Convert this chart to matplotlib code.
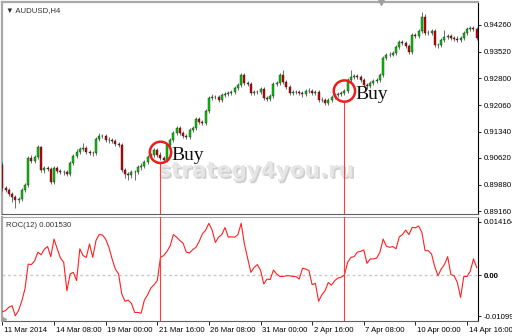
import matplotlib
matplotlib.use("Agg")
import matplotlib.pyplot as plt
import matplotlib.patheffects as pe
import matplotlib.transforms as mtrans
import numpy as np

# ---------------- data (AUDUSD H4) ----------------
opens = [0.9042, 0.8979, 0.8974, 0.8963, 0.8955, 0.8947, 0.8948, 0.8974, 0.8988, 0.9062,
         0.9053, 0.9064, 0.9092, 0.9029, 0.9034, 0.9031, 0.8996, 0.9034, 0.9026, 0.9023,
         0.9024, 0.9018, 0.9048, 0.9067, 0.9078, 0.9086, 0.9089, 0.9078, 0.9075, 0.9076,
         0.9114, 0.9122, 0.9121, 0.9111, 0.9112, 0.9108, 0.9100, 0.9097, 0.9029, 0.9018,
         0.9015, 0.9023, 0.9022, 0.9037, 0.9040, 0.9051, 0.9064, 0.9070, 0.9084, 0.9070,
         0.9062, 0.9056, 0.9097, 0.9111, 0.9130, 0.9144, 0.9130, 0.9122, 0.9119, 0.9138,
         0.9144, 0.9168, 0.9160, 0.9158, 0.9190, 0.9226, 0.9229, 0.9228, 0.9221, 0.9234,
         0.9237, 0.9240, 0.9242, 0.9253, 0.9262, 0.9289, 0.9267, 0.9264, 0.9240, 0.9242,
         0.9243, 0.9251, 0.9226, 0.9223, 0.9232, 0.9264, 0.9267, 0.9289, 0.9270, 0.9256,
         0.9240, 0.9242, 0.9243, 0.9240, 0.9237, 0.9245, 0.9246, 0.9240, 0.9242, 0.9221,
         0.9221, 0.9212, 0.9221, 0.9229, 0.9234, 0.9237, 0.9240, 0.9245, 0.9275, 0.9284,
         0.9286, 0.9284, 0.9275, 0.9262, 0.9259, 0.9267, 0.9273, 0.9275, 0.9289, 0.9336,
         0.9344, 0.9345, 0.9349, 0.9366, 0.9379, 0.9377, 0.9369, 0.9352, 0.9399, 0.9396,
         0.9410, 0.9448, 0.9404, 0.9404, 0.9410, 0.9371, 0.9371, 0.9385, 0.9393, 0.9396,
         0.9390, 0.9388, 0.9385, 0.9390, 0.9404, 0.9415, 0.9418, 0.9415]
closes = [0.8979, 0.8974, 0.8963, 0.8955, 0.8947, 0.8948, 0.8974, 0.8988, 0.9062, 0.9053,
          0.9064, 0.9092, 0.9029, 0.9034, 0.9031, 0.8996, 0.9034, 0.9026, 0.9023, 0.9024,
          0.9018, 0.9048, 0.9067, 0.9078, 0.9086, 0.9089, 0.9078, 0.9075, 0.9076, 0.9114,
          0.9122, 0.9121, 0.9111, 0.9112, 0.9108, 0.9100, 0.9097, 0.9029, 0.9018, 0.9015,
          0.9023, 0.9022, 0.9037, 0.9040, 0.9051, 0.9064, 0.9070, 0.9084, 0.9070, 0.9062,
          0.9056, 0.9097, 0.9111, 0.9130, 0.9144, 0.9130, 0.9122, 0.9119, 0.9138, 0.9144,
          0.9168, 0.9160, 0.9158, 0.9190, 0.9226, 0.9229, 0.9228, 0.9221, 0.9234, 0.9237,
          0.9240, 0.9242, 0.9253, 0.9262, 0.9289, 0.9267, 0.9264, 0.9240, 0.9242, 0.9243,
          0.9251, 0.9226, 0.9223, 0.9232, 0.9264, 0.9267, 0.9289, 0.9270, 0.9256, 0.9240,
          0.9242, 0.9243, 0.9240, 0.9237, 0.9245, 0.9246, 0.9240, 0.9242, 0.9221, 0.9221,
          0.9212, 0.9221, 0.9229, 0.9234, 0.9237, 0.9240, 0.9245, 0.9275, 0.9284, 0.9286,
          0.9284, 0.9275, 0.9262, 0.9259, 0.9267, 0.9273, 0.9275, 0.9289, 0.9336, 0.9344,
          0.9345, 0.9349, 0.9366, 0.9379, 0.9377, 0.9369, 0.9352, 0.9399, 0.9396, 0.9410,
          0.9448, 0.9404, 0.9404, 0.9410, 0.9371, 0.9371, 0.9385, 0.9393, 0.9396, 0.9390,
          0.9388, 0.9385, 0.9390, 0.9404, 0.9415, 0.9418, 0.9415, 0.9390]
highs = [0.9050, 0.8984, 0.8979, 0.8968, 0.8960, 0.8955, 0.8978, 0.8993, 0.9067, 0.9070,
         0.9069, 0.9097, 0.9095, 0.9039, 0.9040, 0.9036, 0.9039, 0.9039, 0.9031, 0.9030,
         0.9029, 0.9053, 0.9072, 0.9085, 0.9091, 0.9102, 0.9094, 0.9083, 0.9082, 0.9119,
         0.9130, 0.9127, 0.9126, 0.9118, 0.9117, 0.9113, 0.9106, 0.9102, 0.9034, 0.9023,
         0.9028, 0.9030, 0.9042, 0.9047, 0.9056, 0.9069, 0.9075, 0.9089, 0.9089, 0.9077,
         0.9067, 0.9102, 0.9116, 0.9135, 0.9149, 0.9149, 0.9135, 0.9128, 0.9143, 0.9149,
         0.9173, 0.9175, 0.9165, 0.9195, 0.9231, 0.9236, 0.9234, 0.9233, 0.9239, 0.9242,
         0.9245, 0.9247, 0.9258, 0.9267, 0.9295, 0.9294, 0.9272, 0.9269, 0.9248, 0.9249,
         0.9256, 0.9256, 0.9231, 0.9237, 0.9269, 0.9273, 0.9294, 0.9302, 0.9275, 0.9261,
         0.9248, 0.9249, 0.9248, 0.9245, 0.9250, 0.9252, 0.9251, 0.9248, 0.9247, 0.9228,
         0.9226, 0.9226, 0.9234, 0.9239, 0.9242, 0.9245, 0.9250, 0.9280, 0.9302, 0.9292,
         0.9292, 0.9289, 0.9280, 0.9266, 0.9272, 0.9278, 0.9281, 0.9294, 0.9341, 0.9350,
         0.9351, 0.9355, 0.9371, 0.9385, 0.9384, 0.9382, 0.9374, 0.9404, 0.9405, 0.9416,
         0.9462, 0.9455, 0.9412, 0.9415, 0.9415, 0.9378, 0.9390, 0.9412, 0.9402, 0.9401,
         0.9395, 0.9397, 0.9395, 0.9409, 0.9420, 0.9424, 0.9423, 0.9420]
lows = [0.8972, 0.8968, 0.8957, 0.8942, 0.8925, 0.8938, 0.8943, 0.8969, 0.8983, 0.9048,
        0.9048, 0.9059, 0.9024, 0.9020, 0.9026, 0.8991, 0.8991, 0.9021, 0.9018, 0.9016,
        0.9013, 0.9013, 0.9043, 0.9062, 0.9073, 0.9081, 0.9073, 0.9070, 0.9068, 0.9071,
        0.9109, 0.9116, 0.9106, 0.9104, 0.9102, 0.9095, 0.9092, 0.9024, 0.9008, 0.9000,
        0.9008, 0.9000, 0.9017, 0.9030, 0.9035, 0.9046, 0.9059, 0.9065, 0.9065, 0.9057,
        0.9051, 0.9051, 0.9092, 0.9106, 0.9125, 0.9125, 0.9117, 0.9114, 0.9114, 0.9133,
        0.9139, 0.9155, 0.9153, 0.9153, 0.9185, 0.9221, 0.9222, 0.9216, 0.9216, 0.9229,
        0.9232, 0.9235, 0.9237, 0.9248, 0.9257, 0.9262, 0.9259, 0.9235, 0.9234, 0.9237,
        0.9238, 0.9221, 0.9218, 0.9218, 0.9227, 0.9259, 0.9262, 0.9265, 0.9251, 0.9235,
        0.9234, 0.9237, 0.9234, 0.9230, 0.9232, 0.9240, 0.9235, 0.9235, 0.9216, 0.9214,
        0.9206, 0.9207, 0.9216, 0.9224, 0.9229, 0.9232, 0.9235, 0.9240, 0.9270, 0.9279,
        0.9279, 0.9270, 0.9257, 0.9250, 0.9254, 0.9262, 0.9268, 0.9270, 0.9284, 0.9331,
        0.9339, 0.9340, 0.9344, 0.9361, 0.9372, 0.9364, 0.9347, 0.9347, 0.9391, 0.9391,
        0.9405, 0.9399, 0.9398, 0.9399, 0.9366, 0.9362, 0.9366, 0.9380, 0.9388, 0.9385,
        0.9382, 0.9380, 0.9380, 0.9385, 0.9399, 0.9410, 0.9410, 0.9385]
roc = [-0.0098, -0.0095, -0.0086, -0.0082, -0.0109, -0.0095, -0.0070, -0.0037, 0.0029, 0.0028,
       0.0038, 0.0061, 0.0054, 0.0069, 0.0076, 0.0049, 0.0096, 0.0070, 0.0045, 0.0034,
       -0.0042, 0.0003, 0.0007, -0.0015, 0.0070, 0.0052, 0.0047, 0.0083, 0.0047, 0.0092,
       0.0108, 0.0107, 0.0096, 0.0074, 0.0043, 0.0016, 0.0003, -0.0051, -0.0070, -0.0067,
       -0.0076, -0.0100, -0.0100, -0.0102, -0.0067, -0.0053, -0.0035, -0.0026, -0.0015, 0.0047,
       0.0052, 0.0063, 0.0078, 0.0108, 0.0101, 0.0092, 0.0085, 0.0061, 0.0059, 0.0068,
       0.0074, 0.0090, 0.0110, 0.0120, 0.0138, 0.0120, 0.0087, 0.0101, 0.0108, 0.0127,
       0.0101, 0.0102, 0.0101, 0.0108, 0.0138, 0.0083, 0.0045, 0.0007, 0.0020, 0.0028,
       0.0013, -0.0024, -0.0011, -0.0012, 0.0013, 0.0003, -0.0004, -0.0004, -0.0002, -0.0002,
       -0.0004, -0.0004, -0.0011, 0.0018, 0.0016, 0.0012, -0.0026, -0.0022, -0.0070, -0.0053,
       -0.0042, -0.0020, -0.0027, -0.0015, -0.0008, -0.0006, 0.0000, 0.0034, 0.0047, 0.0049,
       0.0061, 0.0063, 0.0067, 0.0031, 0.0043, 0.0043, 0.0045, 0.0061, 0.0096, 0.0077,
       0.0074, 0.0076, 0.0070, 0.0102, 0.0108, 0.0120, 0.0108, 0.0127, 0.0126, 0.0131,
       0.0114, 0.0065, 0.0065, 0.0056, 0.0022, -0.0002, 0.0016, 0.0028, 0.0049, 0.0001,
       -0.0002, -0.0020, -0.0060, -0.0004, -0.0004, 0.0010, 0.0043, 0.0020]

price_ticks = [0.94260, 0.93520, 0.92800, 0.92060, 0.91340, 0.90620, 0.89880, 0.89160]
roc_ticks = [0.014164, 0.0, -0.010994]
roc_tick_labels = ["0.014164", "0.00", "-0.010994"]
time_tick_idx = [0, 16, 32, 48, 64, 80, 96, 112, 128, 144]
time_tick_labels = ["11 Mar 2014", "14 Mar 08:00", "19 Mar 00:00", "21 Mar 16:00",
                    "26 Mar 08:00", "31 Mar 00:00", "2 Apr 16:00", "7 Apr 08:00",
                    "10 Apr 00:00", "14 Apr 16:00"]
buy_idx = [49, 106]
buy_price = [0.9077, 0.9245]

# ---------------- figure ----------------
W, H = 512, 336
fig = plt.figure(figsize=(W / 100, H / 100), dpi=100)
fig.patch.set_facecolor("white")
tick_font = dict(family="Liberation Sans", size=5.6)

ax = fig.add_axes([2 / W, 1 - 214 / H, 476 / W, 212 / H])
ax2 = fig.add_axes([2 / W, 1 - 321 / H, 476 / W, 104 / H])

x = np.arange(len(closes))
o = np.array(opens); c = np.array(closes); hi = np.array(highs); lo = np.array(lows)
up = c >= o

ax.vlines(x, lo, hi, color="#555555", lw=0.6, zorder=3)
ax.bar(x[up], (c - o)[up], bottom=o[up], width=0.62, color="#00d000",
       edgecolor="#202020", linewidth=0.3, zorder=4)
ax.bar(x[~up], (o - c)[~up], bottom=c[~up], width=0.62, color="#d00000",
       edgecolor="#202020", linewidth=0.3, zorder=4)

ax.set_xlim(-0.12, 147.4)
ax.set_ylim(0.89081, 0.94890)
ax2.set_xlim(-0.12, 147.4)
ax2.set_ylim(-0.01228, 0.01549)

# price axis
ax.yaxis.tick_right()
ax.set_yticks(price_ticks)
ax.set_yticklabels([f"{v:.5f}" for v in price_ticks], **tick_font)
ax.tick_params(axis="y", direction="out", length=2.5, width=0.6, pad=1.5, colors="black")
ax.set_xticks([])

for a in (ax, ax2):
    a.spines["left"].set_color("#a8a8a8")
    a.spines["top"].set_color("#a8a8a8")
    a.spines["right"].set_color("black")
    a.spines["bottom"].set_color("#606060")
    for s in a.spines.values():
        s.set_linewidth(0.8)
ax.spines["top"].set_linewidth(1.6)
ax.spines["left"].set_linewidth(1.6)
ax2.spines["left"].set_linewidth(1.6)

# ROC panel
ax2.plot(x, roc, color="#ff2020", lw=0.8, zorder=3)
ax2.axhline(0, color="#c8c8c8", lw=1.0, ls=(0, (2, 2)), zorder=1)
ax2.yaxis.tick_right()
ax2.set_yticks(roc_ticks)
ax2.set_yticklabels(roc_tick_labels, **tick_font)
ax2.tick_params(axis="y", direction="out", length=2.5, width=0.6, pad=1.5, colors="black")
for lbl in ax2.get_yticklabels():
    if lbl.get_text() == "0.00":
        lbl.set_fontweight("bold")
ax2.set_xticks(time_tick_idx)
ax2.set_xticklabels(time_tick_labels, ha="left", **tick_font)
ax2.tick_params(axis="x", direction="out", length=3, width=0.6, pad=1.0, colors="black")
offset = mtrans.ScaledTranslation(1.5 / 100, 0, fig.dpi_scale_trans)
for lbl in ax2.get_xticklabels():
    lbl.set_transform(lbl.get_transform() + offset)

# labels
ax.text(0.008, 0.975, "\u25BC AUDUSD,H4", transform=ax.transAxes, ha="left", va="top",
        family=["Liberation Sans", "DejaVu Sans"], size=5.6, color="#303030")
ax2.text(0.008, 0.95, "ROC(12) 0.001530", transform=ax2.transAxes, ha="left", va="top",
         family="Liberation Sans", size=5.6, color="#303030")
ax.plot([0.796], [1.0], marker="v", ms=4, color="#a0a0a0", transform=ax.transAxes,
        clip_on=False, zorder=6)
ax2.plot([0.004], [0.02], marker=">", ms=3, color="#a0a0a0", transform=ax2.transAxes,
         clip_on=False, zorder=6)

# watermark
wm = ax.text(256 / W, 1 - 177 / H, "strategy4you.ru", transform=fig.transFigure,
             ha="center", va="baseline", family="DejaVu Sans", weight="bold",
             size=15.5, color="#e6e6e6", zorder=1)
wm.set_path_effects([pe.withSimplePatchShadow(offset=(1.2, -1.2),
                                              shadow_rgbFace="#a8a8a8", alpha=0.55)])

# buy signals
px_per_price = 212 / (0.94890 - 0.89081)
for bi, bp in zip(buy_idx, buy_price):
    ax.scatter([bi], [bp], s=235, facecolors="none", edgecolors="#ee1c1c",
               linewidths=1.8, zorder=7)
    circ_bottom = bp - 10.5 / px_per_price
    ax.vlines(bi, 0.89081, circ_bottom, color="#ff3b3b", lw=0.8, zorder=5)
    ax2.axvline(bi, color="#ff3b3b", lw=0.8, zorder=5)
    ax.annotate("Buy", xy=(bi, bp), xytext=(8.2, -5.6), textcoords="offset points",
                ha="left", va="baseline", family="Liberation Serif", size=14,
                color="#101010", zorder=8)

fig.savefig("out.png", dpi=100, facecolor="white")
